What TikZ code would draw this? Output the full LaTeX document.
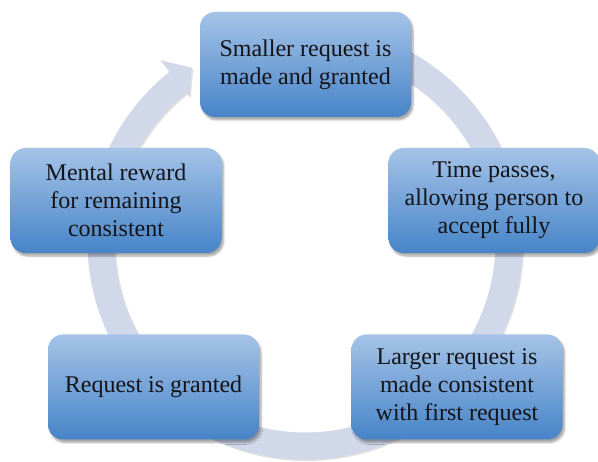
\documentclass[tikz,border=0pt]{standalone}
\usepackage{fontspec}
\setmainfont{Liberation Serif}
\usetikzlibrary{shadows.blur}
\definecolor{ringc}{RGB}{208,216,234}
\definecolor{boxtop}{RGB}{165,195,231}
\definecolor{boxmid}{RGB}{146,182,224}
\definecolor{boxbot}{RGB}{70,132,200}
\definecolor{txt}{RGB}{20,20,25}
\tikzset{
  stepbox/.style={rounded corners=15pt, minimum width=211pt, minimum height=105pt,
    inner sep=0pt, align=center, text=txt,
    top color=boxtop, middle color=boxmid, bottom color=boxbot,
    blur shadow={shadow xshift=2pt, shadow yshift=-3pt, shadow opacity=35, shadow blur steps=6},
    font=\fontsize{24}{28}\selectfont},
  ringshape/.style={fill=ringc}
}
\begin{document}
\begin{tikzpicture}[x=1pt,y=-1pt]
\useasboundingbox (0,0) rectangle (598,462);
\coordinate (c) at (305,242);
\begin{scope}[shift={(c)}]
  \fill[black, opacity=0.12] ([shift={(1.5pt,-1.5pt)}]100:217.5pt) arc[start angle=100, end angle=-231.5, radius=217.5pt]
    -- ([shift={(1.5pt,-1.5pt)}]-231.5:232pt) -- ([shift={(1.5pt,-1.5pt)}]-237:208pt) -- ([shift={(1.5pt,-1.5pt)}]-231.5:186pt)
    -- ([shift={(1.5pt,-1.5pt)}]-231.5:190.5pt) arc[start angle=-231.5, end angle=100, radius=190.5pt] -- cycle;
  \fill[ringshape] (100:217.5pt) arc[start angle=100, end angle=-231.5, radius=217.5pt]
    -- (-231.5:232pt) -- (-237:208pt) -- (-231.5:186pt)
    -- (-231.5:190.5pt) arc[start angle=-231.5, end angle=100, radius=190.5pt] -- cycle;
\end{scope}
\node[stepbox] (b1) at (305.5,64.5) {Smaller request is\\made and granted};
\node[stepbox] (b2) at (116,200.5) {Mental reward\\for remaining\\consistent};
\node[stepbox] (b3) at (494,200.5) {Time passes,\\allowing person to\\accept fully};
\node[stepbox] (b4) at (457,387) {Larger request is\\made consistent\\with first request};
\node[stepbox] (b5) at (153.5,387) {Request is granted};
\end{tikzpicture}
\end{document}
